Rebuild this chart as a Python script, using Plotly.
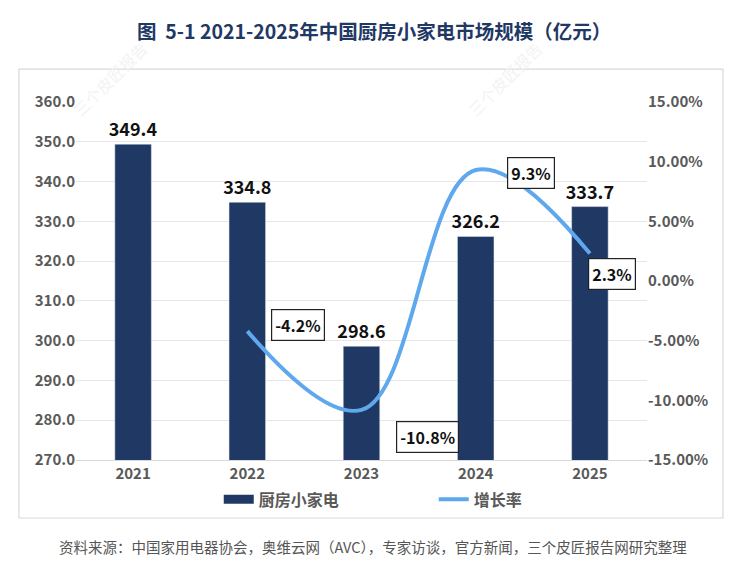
import plotly.graph_objects as go

years = ["2021", "2022", "2023", "2024", "2025"]
market = [349.4, 334.8, 298.6, 326.2, 333.7]
growth_years = ["2022", "2023", "2024", "2025"]
growth = [-4.2, -10.8, 9.3, 2.3]
growth_text = ["-4.2%", "-10.8%", "9.3%", "2.3%"]
left_ticks = [270, 280, 290, 300, 310, 320, 330, 340, 350, 360]
right_ticks = [-15, -10, -5, 0, 5, 10, 15]

FONT = "Noto Sans CJK SC"
NAVY = "#1F3864"
SKY = "#5FA8EE"
GREY = "#595959"

fig = go.Figure()

fig.add_trace(go.Bar(
    x=years, y=market, name="厨房小家电", showlegend=False,
    marker_color=NAVY, constraintext="none",
    text=[f"<b>{v:.1f}</b>" for v in market], textposition="outside",
    textfont=dict(family=FONT, size=18, color="#111111"),
))

# legend-only entry so the bar key is drawn as a wide rectangle
fig.add_trace(go.Scatter(
    x=[None], y=[None], name="<b>厨房小家电</b>", mode="lines",
    line=dict(color=NAVY, width=9),
))

fig.add_trace(go.Scatter(
    x=growth_years, y=growth, name="<b>增长率</b>", yaxis="y2",
    mode="lines", line=dict(color=SKY, width=4, shape="spline", smoothing=1.1),
))

# boxed percentage labels next to the line points
# (annotations on a category axis take the category index)
offsets = [(51, 6), (66, -27), (55, -3), (22, -20)]
for xv, yv, t, (dx, dy) in zip(growth_years, growth, growth_text, offsets):
    fig.add_annotation(
        x=years.index(xv), y=yv, xref="x", yref="y2", text=f"<b>{t}</b>",
        showarrow=False, xshift=dx, yshift=dy, bgcolor="white",
        bordercolor="#222222", borderwidth=1.2, borderpad=3,
        font=dict(family=FONT, size=16, color="#111111"),
    )

fig.add_annotation(
    x=0.52, y=-0.277, xref="paper", yref="paper", showarrow=False,
    text="资料来源：中国家用电器协会，奥维云网（AVC），专家访谈，官方新闻，三个皮匠报告网研究整理",
    font=dict(family=FONT, size=14.5, color="#555555"),
)

# faint watermarks
for wx, wy in [(-0.02, 1.19), (0.83, 1.19)]:
    fig.add_annotation(
        x=wx, y=wy, xref="paper", yref="paper", showarrow=False,
        text="三个皮匠报告", textangle=-45,
        font=dict(family=FONT, size=16, color="#F3F3F3"),
    )

# outer frame around the chart
fig.add_shape(
    type="rect", xref="paper", yref="paper",
    x0=-0.1, x1=1.133, y0=-0.162, y1=1.092,
    line=dict(color="#D9D9D9", width=1.2), layer="below",
)

fig.update_layout(
    width=747, height=587,
    margin=dict(l=68, r=108, t=94, b=135),
    paper_bgcolor="white", plot_bgcolor="white",
    font=dict(family=FONT),
    title=dict(
        text="<b>图  5-1 2021-2025年中国厨房小家电市场规模（亿元）</b>",
        x=0.49, xanchor="center", y=0.959, yanchor="middle",
        font=dict(family=FONT, size=19.5, color=NAVY),
    ),
    xaxis=dict(
        type="category", range=[-0.5, len(years) - 0.5],
        tickvals=years, ticktext=[f"<b>{y}</b>" for y in years],
        showline=True, linecolor="#D9D9D9", ticks="",
        tickfont=dict(family=FONT, size=15, color=GREY),
    ),
    yaxis=dict(
        range=[270, 360], tickvals=left_ticks,
        ticktext=[f"<b>{v:.1f}</b>" for v in left_ticks],
        showgrid=True, gridcolor="#E6E6E6", zeroline=False,
        tickfont=dict(family=FONT, size=15, color=GREY),
    ),
    yaxis2=dict(
        overlaying="y", side="right", range=[-15, 15],
        tickvals=right_ticks,
        ticktext=[f"<b>{v:.2f}%</b>" for v in right_ticks],
        showgrid=False, zeroline=False,
        tickfont=dict(family=FONT, size=15, color=GREY),
    ),
    legend=dict(
        orientation="h", x=0.25, xanchor="left", y=-0.11, yanchor="middle",
        entrywidth=170, font=dict(family=FONT, size=16, color=GREY),
    ),
    bargap=0.68,
)

fig.write_html("out.html")
